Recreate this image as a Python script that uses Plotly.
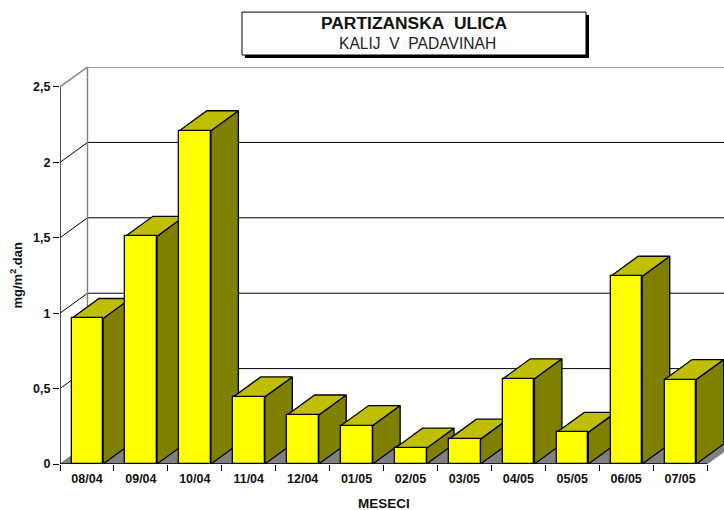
import plotly.graph_objects as go

months = ["08/04", "09/04", "10/04", "11/04", "12/04", "01/05", "02/05", "03/05", "04/05", "05/05", "06/05", "07/05"]
values = [0.965, 1.51, 2.21, 0.445, 0.325, 0.255, 0.105, 0.165, 0.565, 0.21, 1.245, 0.56]
y_ticks = [0, 0.5, 1, 1.5, 2, 2.5]
y_labels = ["0", "0,5", "1", "1,5", "2", "2,5"]
title_main = "PARTIZANSKA\u00a0\u00a0ULICA"
title_sub = "KALIJ\u00a0\u00a0V\u00a0\u00a0PADAVINAH"
x_title = "MESECI"
y_title = "mg/m<sup>2</sup>.dan"

YEL, TOP, SIDE, GREY = "#FFFF00", "#BFBF00", "#808000", "#808080"
FONT = "Liberation Sans"
W, H = 724, 510
L, R, T, B = 60, 0, 67, 45.5
CAT_PX = 53.92
UNIT_PX = 151.0
DX = 27.5 / CAT_PX
DY = 20 / UNIT_PX
BW = 0.585
BAR_SHIFT = 0.006
n = len(months)
xmax = (W - L - R) / CAT_PX
ymax = (H - T - B) / UNIT_PX
centers = [i + 0.5 for i in range(n)]
bar_x = [c + BAR_SHIFT for c in centers]

fig = go.Figure()


def line(xs, ys, color, width=1.2, axis="y"):
    fig.add_trace(go.Scatter(x=xs, y=ys, mode="lines", yaxis=axis, line=dict(color=color, width=width),
                             hoverinfo="skip", showlegend=False))


def poly(xs, ys, fill, color="#000000", width=1.3):
    fig.add_trace(go.Scatter(x=xs, y=ys, mode="lines", fill="toself", fillcolor=fill,
                             line=dict(color=color, width=width), hoverinfo="skip", showlegend=False))


# floor and walls
poly([0, n, n + DX, DX, 0], [0, 0, DY, DY, 0], GREY, GREY, 1)
for v in y_ticks[1:-1]:
    line([0, DX, n + DX + 1], [v, v + DY, v + DY], "#000000", 1.0)
line([0, DX, n + DX + 1], [y_ticks[-1], y_ticks[-1] + DY, y_ticks[-1] + DY], GREY, 1.4)
line([DX, DX], [DY, y_ticks[-1] + DY], GREY, 1.4)

# bar depth, left to right
for c, v in zip(bar_x, values):
    l, r = c - BW / 2, c + BW / 2
    poly([r, r + DX, r + DX, r, r], [0, DY, v + DY, v, 0], SIDE)
    poly([l, r, r + DX, l + DX, l], [v, v, v + DY, v + DY, v], TOP)

# bar fronts on the overlaid axis
fig.add_trace(go.Bar(x=bar_x, y=values, yaxis="y2", width=BW, marker=dict(color=YEL, line=dict(color="#000000", width=1.3)),
                     hoverinfo="skip", showlegend=False))
line([0, 0], [0, y_ticks[-1]], "#000000", 1.4, "y2")
line([0, n], [0, 0], "#000000", 1.6, "y2")

tickfont = dict(family=FONT, size=12.5, color="#111111")
fig.update_layout(
    width=W, height=H, autosize=False, margin=dict(l=L, r=R, t=T, b=B, pad=0),
    paper_bgcolor="white", plot_bgcolor="white", showlegend=False, hovermode=False, bargap=0,
    font=dict(family=FONT),
    xaxis=dict(range=[0, xmax], tickmode="array", tickvals=centers, ticktext=[f"<b>{m}</b>" for m in months],
               ticks="", showgrid=False, zeroline=False, showline=False, tickfont=tickfont, ticklabelstandoff=5,
               minor=dict(tickmode="array", tickvals=list(range(n + 1)), ticks="outside", ticklen=6, tickwidth=1.2,
                          tickcolor="#000000", showgrid=False)),
    yaxis=dict(range=[0, ymax], tickmode="array", tickvals=y_ticks, ticktext=[f"<b>{s}</b>" for s in y_labels],
               ticks="outside", ticklen=6, tickwidth=1.2, tickcolor="#000000", showgrid=False, zeroline=False,
               showline=False, tickfont=tickfont),
    yaxis2=dict(range=[0, ymax], overlaying="y", visible=False),
    shapes=[
        dict(type="rect", xref="paper", yref="paper", x0=(245 - L) / (W - L), x1=(589 - L) / (W - L),
             y0=(H - B - 58) / (H - T - B), y1=(H - B - 15) / (H - T - B), fillcolor="#000000", line=dict(width=0)),
        dict(type="rect", xref="paper", yref="paper", x0=(242 - L) / (W - L), x1=(586 - L) / (W - L),
             y0=(H - B - 55) / (H - T - B), y1=(H - B - 12) / (H - T - B), fillcolor="#FFFFFF",
             line=dict(color="#000000", width=1)),
    ],
    annotations=[
        dict(text=f"<b>{title_main}</b>", xref="paper", yref="paper", x=(414.5 - L) / (W - L),
             y=(H - B - 23) / (H - T - B), xanchor="center", yanchor="middle", showarrow=False,
             font=dict(size=17.4, color="#111111", family=FONT)),
        dict(text=title_sub, xref="paper", yref="paper", x=(417 - L) / (W - L),
             y=(H - B - 43) / (H - T - B), xanchor="center", yanchor="middle", showarrow=False,
             font=dict(size=15.6, color="#222222", family=FONT)),
        dict(text=f"<b>{x_title}</b>", xref="x", yref="paper", x=n / 2, y=(H - B - 504) / (H - T - B),
             xanchor="center", yanchor="middle", showarrow=False, font=dict(size=13.5, color="#111111", family=FONT)),
        dict(text=f"<b>{y_title}</b>", xref="paper", yref="y", x=(17 - L) / (W - L), y=1.25, textangle=-90,
             xanchor="center", yanchor="middle", showarrow=False, font=dict(size=13, color="#111111", family=FONT)),
    ],
)
fig.write_html("out.html", config=dict(displayModeBar=False),
               post_script="document.body.style.margin='0';")
